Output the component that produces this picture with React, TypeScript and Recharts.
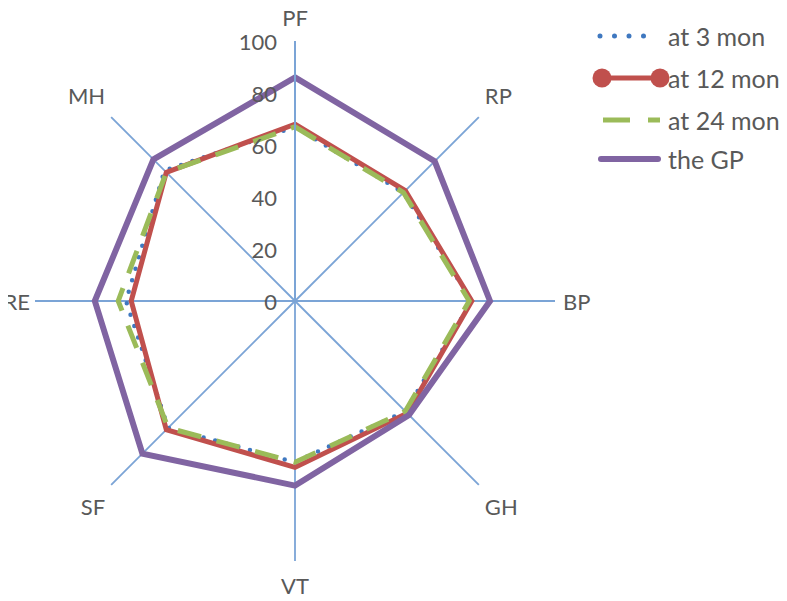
import React from 'react';
import { RadarChart, Radar, PolarGrid, PolarAngleAxis, PolarRadiusAxis, Legend } from 'recharts';

const categories = ['PF', 'RP', 'BP', 'GH', 'VT', 'SF', 'RE', 'MH'];
const at3mon = [67, 59, 68, 60, 62, 69, 65, 71];
const at12mon = [68, 60, 68, 61, 64, 70, 63, 70];
const at24mon = [67, 59, 67, 60, 62, 69, 68, 70];
const theGP = [86, 76, 75, 62, 71, 83, 77, 77];
const radiusTicks = [0, 20, 40, 60, 80, 100];

const seriesNames = ['at 3 mon', 'at 12 mon', 'at 24 mon', 'the GP'];

const data = categories.map((c, i) => ({
  name: c,
  m3: at3mon[i],
  m12: at12mon[i],
  m24: at24mon[i],
  gp: theGP[i],
}));

const CX = 295;
const CY = 301;
const R = 260;
const FONT = 'Lato, "Open Sans", sans-serif';
const TEXT = '#595959';
const SPOKE = '#7BA4D6';
const BLUE = '#3F78C0';
const RED = '#C0504D';
const GREEN = '#9BBB59';
const PURPLE = '#8064A2';

const AngleTick = (props: any) => {
  const { x, y, payload } = props;
  const dx = x - CX;
  const dy = y - CY;
  const len = Math.sqrt(dx * dx + dy * dy) || 1;
  const ux = dx / len;
  const uy = dy / len;
  const ex = CX + ux * R;
  const ey = CY + uy * R;
  let tx = ex;
  let ty = ey;
  let anchor: 'start' | 'middle' | 'end' = 'middle';
  if (Math.abs(ux) < 0.05) {
    ty = ey + Math.sign(uy) * 24;
  } else if (Math.abs(uy) < 0.05) {
    anchor = ux > 0 ? 'start' : 'end';
    tx = ex + Math.sign(ux) * (ux > 0 ? 8 : 5);
  } else {
    anchor = ux > 0 ? 'start' : 'end';
    tx = ex + Math.sign(ux) * 6;
    ty = ey + Math.sign(uy) * 22;
  }
  return (
    <text x={tx} y={ty} textAnchor={anchor} dominantBaseline="central" fill={TEXT} fontSize={22} fontFamily={FONT}>
      {payload.value}
    </text>
  );
};

const RadiusTick = (props: any) => {
  const { x, y, payload } = props;
  return (
    <text x={x - 18} y={y} textAnchor="end" dominantBaseline="central" fill={TEXT} fontSize={22} fontFamily={FONT}>
      {payload.value}
    </text>
  );
};

const LegendContent = () => {
  const rows = [16, 58, 100, 139];
  return (
    <svg width={195} height={165}>
      <line x1={8} x2={66} y1={rows[0]} y2={rows[0]} stroke={BLUE} strokeWidth={5} strokeDasharray="0 14.5" strokeLinecap="round" />
      <line x1={10} x2={68} y1={rows[1]} y2={rows[1]} stroke={RED} strokeWidth={5} />
      <circle cx={10} cy={rows[1]} r={9.5} fill={RED} />
      <circle cx={68} cy={rows[1]} r={9.5} fill={RED} />
      <line x1={11} x2={68} y1={rows[2]} y2={rows[2]} stroke={GREEN} strokeWidth={5} strokeDasharray="27 18" />
      <line x1={9} x2={66} y1={rows[3]} y2={rows[3]} stroke={PURPLE} strokeWidth={6} strokeLinecap="round" />
      {seriesNames.map((n, i) => (
        <text key={n} x={76} y={rows[i]} dominantBaseline="central" fill={TEXT} fontSize={25} fontFamily={FONT}>
          {n}
        </text>
      ))}
    </svg>
  );
};

export default function App() {
  return (
    <div style={{ position: 'relative', left: -8, top: -8, width: 787, height: 601, background: '#fff' }}>
      <RadarChart
        width={787}
        height={601}
        data={data}
        cx={CX}
        cy={CY}
        outerRadius={R}
        margin={{ top: 0, right: 0, bottom: 0, left: 0 }}
      >
        <PolarGrid gridType="polygon" polarRadius={[0]} stroke={SPOKE} strokeWidth={1.8} />
        <PolarAngleAxis dataKey="name" axisLine={false} tickLine={false} tick={<AngleTick />} />
        <PolarRadiusAxis
          angle={90}
          domain={[0, 100]}
          ticks={radiusTicks as any}
          tickCount={6}
          axisLine={{ stroke: SPOKE, strokeWidth: 2 }}
          tickLine={false}
          tick={<RadiusTick />}
        />
        <Radar
          name={seriesNames[0]}
          dataKey="m3"
          stroke={BLUE}
          strokeWidth={4.5}
          strokeDasharray="0 12"
          strokeLinecap="round"
          fill="none"
          fillOpacity={0}
          dot={false}
          isAnimationActive={false}
        />
        <Radar
          name={seriesNames[1]}
          dataKey="m12"
          stroke={RED}
          strokeWidth={5}
          fill="none"
          fillOpacity={0}
          dot={{ r: 9.5, fill: RED, stroke: RED, strokeWidth: 0 }}
          isAnimationActive={false}
        />
        <Radar
          name={seriesNames[2]}
          dataKey="m24"
          stroke={GREEN}
          strokeWidth={5}
          strokeDasharray="24 16"
          fill="none"
          fillOpacity={0}
          dot={false}
          isAnimationActive={false}
        />
        <Radar
          name={seriesNames[3]}
          dataKey="gp"
          stroke={PURPLE}
          strokeWidth={6}
          fill="none"
          fillOpacity={0}
          dot={false}
          isAnimationActive={false}
        />
        <Legend
          layout="vertical"
          align="center"
          verticalAlign="middle"
          content={<LegendContent />}
          wrapperStyle={{ position: 'absolute', left: 592, top: 20, width: 195, height: 165 }}
        />
      </RadarChart>
    </div>
  );
}
